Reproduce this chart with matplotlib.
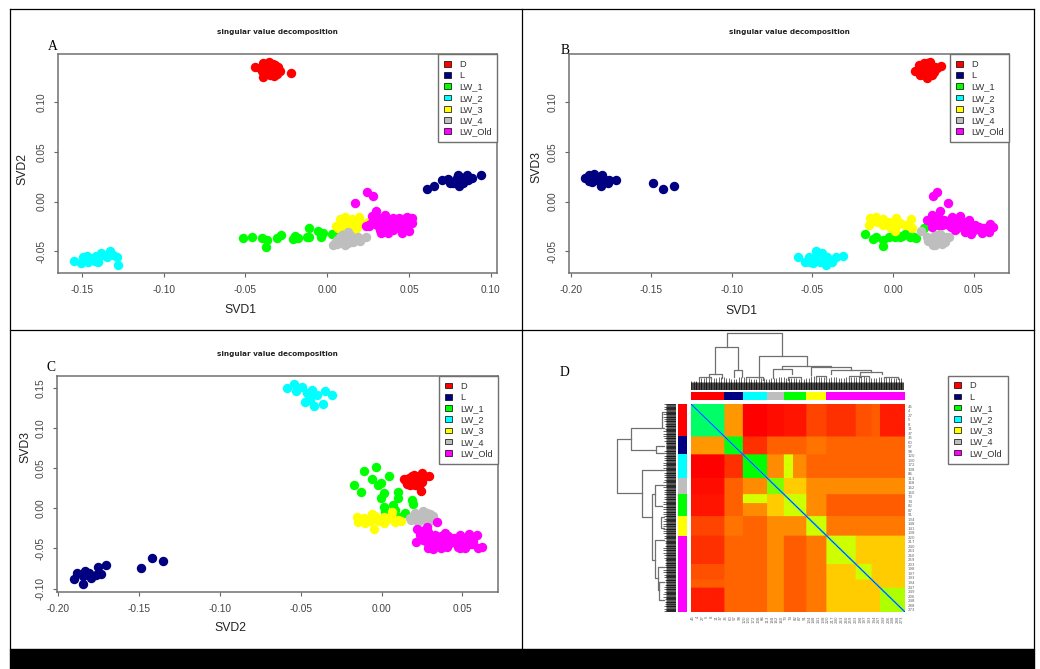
import matplotlib
matplotlib.use('Agg')
import matplotlib.pyplot as plt
import numpy as np
from matplotlib.colors import LinearSegmentedColormap, ListedColormap
from matplotlib.lines import Line2D
from matplotlib.patches import Patch, Rectangle

W, H = 1040, 669

names = ['D', 'L', 'LW_1', 'LW_2', 'LW_3', 'LW_4', 'LW_Old']
colors = ['#ff0000', '#000080', '#00ff00', '#00ffff', '#ffff00', '#bebebe', '#ff00ff']

# panel A
a_d_x = [-.044, -.039, -.0355, -.032, -.029, -.0224, -.039, -.0324, -.036, -.041, -.034, -.031, -.037, -.038, -.033, -.035, -.030, -.040, -.036, -.033]
a_d_y = [.1356, .139, .1406, .1373, .1316, .1289, .1255, .1265, .1322, .1339, .1306, .1282, .1295, .1345, .1385, .1270, .1355, .1310, .1365, .1325]
a_l_x = [.0611, .0652, .0703, .0736, .075, .0801, .0805, .078, .0821, .0852, .0882, .0939, .0831, .079, .0862, .0811, .077]
a_l_y = [.0124, .0161, .0218, .0224, .0184, .0268, .0161, .0201, .0218, .0268, .0234, .0268, .0184, .0234, .0218, .0251, .0184]
a_1_x = [-.0513, -.046, -.0401, -.0367, -.0377, -.031, -.0283, -.0208, -.0198, -.0177, -.0126, -.011, -.011, -.0055, -.0041, -.0024, .0026, .0067, .0139, .0098]
a_1_y = [-.0368, -.0355, -.0362, -.0385, -.0452, -.0365, -.0335, -.0372, -.0345, -.0362, -.0355, -.0352, -.0268, -.0291, -.0352, -.0318, -.0325, -.0301, -.0352, -.0285]
a_2_x = [-.1549, -.1506, -.1496, -.1471, -.1461, -.143, -.1414, -.14, -.138, -.1349, -.1328, -.1308, -.1284, -.1282, -.1451, -.1481, -.142, -.139]
a_2_y = [-.0599, -.0619, -.0559, -.0546, -.0609, -.0569, -.0546, -.0603, -.0519, -.0559, -.0495, -.0536, -.0556, -.0636, -.0586, -.0593, -.0593, -.0546]
a_3_x = [.0051, .0077, .0108, .0149, .0194, .0098, .0139, .0179, .0118, .02, .0067, .0159, .0251, .0088, .0128, .0169]
a_3_y = [-.0244, -.0177, -.0151, -.0177, -.0157, -.0234, -.0218, -.0251, -.0268, -.0201, -.0268, -.0218, -.0201, -.0201, -.0184, -.0285]
a_4_x = [.0033, .0057, .0077, .0098, .0108, .0124, .0128, .0159, .0189, .0236, .0047, .0139, .0088, .0179, .0067, .008, .0125, .015, .020, .0135, .006, .017]
a_4_y = [-.0432, -.0385, -.0352, -.0402, -.0435, -.0301, -.0368, -.0402, -.0352, -.0352, -.0418, -.0335, -.0335, -.0385, -.0418, -.039, -.042, -.038, -.040, -.035, -.043, -.037]
a_o_x = [.024, .0277, .0171, .0295, .0271, .0236, .0352, .0485, .0515, .0328, .0373, .0458, .0499, .0515, .0302, .0342, .0383, .0424, .0465, .0302, .0342, .0383, .0424, .0465, .0322, .0363, .0403, .0444, .0485,
         .032, .036, .040, .044, .048, .051, .030, .034, .038, .042, .046, .050, .032, .036, .040, .044, .048, .028, .026, .0255]
a_o_y = [.0094, .0057, -.0017, -.009, -.0141, -.0241, -.0134, -.0151, -.0167, -.0318, -.0318, -.0311, -.0291, -.0218, -.0184, -.0184, -.0184, -.0184, -.0184, -.0234, -.0251, -.0234, -.0251, -.0234, -.0285, -.0285, -.0285, -.0268, -.0268,
         -.0165, -.016, -.0165, -.016, -.0165, -.0185, -.021, -.021, -.021, -.021, -.021, -.0225, -.026, -.0265, -.026, -.0265, -.026, -.020, -.0225, -.0245]

# panel B
b_d_x = [.0135, .0159, .019, .0232, .0263, .0298, .0211, .017, .0242, .0201, .0222, .018, .0253, .019, .0232, .0159, .0211, .0273]
b_d_y = [.1312, .1373, .1389, .1406, .1356, .1363, .1239, .1272, .1272, .1339, .1306, .1322, .1306, .1272, .1356, .1322, .1389, .1339]
b_l_x = [-.191, -.189, -.189, -.1858, -.1837, -.1806, -.1811, -.1848, -.1786, -.1761, -.1769, -.1721, -.1868, -.1816, -.1492, -.1428, -.136]
b_l_y = [.0234, .0268, .0211, .0275, .0218, .0268, .0161, .0241, .0218, .0218, .0184, .0214, .0201, .0201, .0187, .0124, .0157]
b_1_x = [-.0172, -.0126, -.0106, -.0062, -.0062, -.0027, .0014, .0046, .0077, .0108, .0143, .0195, .0014, .0056, .0128]
b_1_y = [-.0325, -.0372, -.0352, -.0445, -.0385, -.0358, -.0358, -.0352, -.0328, -.0352, -.0365, -.0268, -.0301, -.0345, -.0358]
b_2_x = [-.059, -.0546, -.0519, -.0499, -.0476, -.0451, -.0441, -.041, -.0414, -.0379, -.0354, -.031, -.0482, -.043, -.0513]
b_2_y = [-.0559, -.0603, -.0559, -.0619, -.0495, -.0603, -.0519, -.0552, -.0636, -.0603, -.0559, -.0549, -.0569, -.0586, -.0603]
b_3_x = [-.0147, -.0141, -.0106, -.0064, -.0064, -.0027, .0019, .0014, .0046, .0077, .0114, .0118, -.0017, -.0099, .0025]
b_3_y = [-.0234, -.0167, -.0151, -.0174, -.0234, -.0201, -.0161, -.0295, -.0218, -.0234, -.0174, -.0264, -.0251, -.0201, -.0234]
b_4_x = [.0176, .0211, .0246, .0263, .0304, .0346, .0232, .0284, .0315, .0325, .0263, .026, .029, .024, .030, .033, .022, .028]
b_4_y = [-.0291, -.0352, -.0435, -.0368, -.0425, -.0358, -.0385, -.0385, -.0352, -.0402, -.0435, -.034, -.033, -.038, -.038, -.036, -.040, -.042]
b_o_x = [.0273, .0248, .0344, .0294, .0211, .0242, .0242, .0284, .0315, .0366, .0418, .0346, .0387, .0428, .047, .0486, .0449, .0511, .0553, .0594, .06, .0621, .0532, .0387, .0304, .048, .0573, .0356,
         .024, .028, .032, .036, .040, .044, .024, .028, .032, .036, .040, .044, .048, .052, .056, .050, .054, .058]
b_o_y = [.0094, .0057, -.0017, -.009, -.0184, -.0134, -.0251, -.0167, -.0184, -.0157, -.0141, -.0234, -.0285, -.0218, -.0184, -.0325, -.0301, -.0234, -.0311, -.0301, -.0224, -.0251, -.0251, -.0201, -.0234, -.0251, -.0268, -.0184,
         -.018, -.017, -.019, -.018, -.018, -.020, -.023, -.023, -.022, -.025, -.026, -.024, -.023, -.026, -.026, -.029, -.029, -.027]

# panel C
c_d_x = [.0136, .0167, .0156, .0202, .0253, .0296, .0245, .0208, .0228, .0187, .0259, .0177, .0218, .0249, .019, .015, .024, .021, .018, .023, .026]
c_d_y = [.0361, .0373, .0303, .0415, .0444, .0406, .0216, .029, .0352, .0352, .0373, .029, .0394, .0332, .040, .034, .037, .033, .036, .028, .040]
c_l_x = [-.1901, -.1885, -.1848, -.1835, -.185, -.1798, -.1809, -.1767, -.1753, -.1737, -.1706, -.1486, -.1422, -.1354]
c_l_y = [-.0883, -.08, -.0941, -.0775, -.0842, -.0871, -.0808, -.0829, -.0734, -.0821, -.0709, -.0742, -.0618, -.0655]
c_1_x = [-.0173, -.0126, -.0109, -.006, -.0033, -.0023, -.0002, .0043, .0012, -.0002, .0016, .007, .0101, .0101, .0187, .0193, .0084, .0142, .0115, .0023]
c_1_y = [.0286, .0207, .0464, .0369, .0514, .0286, .0311, .0402, .0187, .0124, .0021, .0041, .0199, .0129, .0104, .0058, -.0021, -.0054, -.0104, -.0041]
c_2_x = [-.0588, -.0539, -.0527, -.049, -.0461, -.043, -.0475, -.044, -.0416, -.0399, -.0362, -.0348, -.0307, -.0451]
c_2_y = [.1493, .1546, .1464, .1505, .1439, .1472, .1327, .1347, .1277, .141, .1298, .1455, .141, .141]
c_3_x = [-.0152, -.0146, -.0107, -.0101, -.006, -.0045, -.0029, .0012, .0016, .0064, .008, .0121, .0043, -.007, -.013, -.008, -.004, -.001, .003, .006, .010]
c_3_y = [-.0104, -.0166, -.0124, -.0178, -.0075, -.0257, -.0145, -.0187, -.0104, -.005, -.0166, -.0153, -.0124, -.0153, -.013, -.013, -.010, -.016, -.015, -.012, -.014]
c_4_x = [.0173, .0208, .0255, .03, .0321, .0228, .027, .0239, .029, .0195, .023, .028, .0315, .026, .021, .031, .0185]
c_4_y = [-.0116, -.0054, -.0033, -.007, -.0124, -.0166, -.0145, -.0104, -.0166, -.009, -.008, -.006, -.010, -.011, -.013, -.015, -.014]
c_o_x = [.0344, .0218, .028, .0249, .0214, .0259, .029, .0317, .0362, .0393, .0403, .0486, .0486, .0516, .0543, .0588, .0599, .0619, .0547, .0444, .0342, .03, .0383, .0486, .028, .0259, .0516, .0424, .0568,
         .025, .029, .033, .037, .041, .045, .049, .053, .057, .027, .031, .035, .039, .043, .047, .051, .055, .024, .033, .037, .047, .052, .056]
c_o_y = [-.0174, -.0257, -.0228, -.0311, -.0419, -.0394, -.0498, -.051, -.0477, -.0303, -.0477, -.0332, -.0498, -.0498, -.0319, -.0332, -.0498, -.0477, -.0394, -.0394, -.0373, -.0352, -.0415, -.0415, -.0415, -.0311, -.0373, -.0435, -.0415,
         -.028, -.030, -.033, -.034, -.035, -.037, -.037, -.036, -.036, -.036, -.038, -.040, -.041, -.042, -.043, -.043, -.044, -.033, -.046, -.049, -.048, -.046, -.045]

# panel D, similarity read block by block (0 red .. 1 blue)
block_names = ['D', 'L', 'LW_2', 'LW_4', 'LW_1a', 'LW_1b', 'LW_3', 'Old_a', 'Old_b', 'Old_c', 'Old_d']
block_sizes = [40, 22, 29, 20, 11, 16, 24, 35, 19, 10, 30]
heat_d = [.60, .15, .00, .015, .02, .02, .07, .05, .08, .09, .03]
heat_l = [.52, .05, .095, .095, .095, .115, .10, .10, .10, .10]
heat_2 = [.50, .14, .29, .14, .10, .10, .10, .10, .10]
heat_4 = [.38, .20, .20, .14, .14, .14, .14, .14]
heat_1a = [.30, .30, .14, .09, .09, .09, .09]
heat_1b = [.30, .14, .09, .09, .09, .09]
heat_3 = [.30, .12, .12, .12, .12]
heat_oa = [.30, .20, .20, .20]
heat_ob = [.30, .20, .20]
heat_oc = [.20, .20]
heat_od = [.33]

bar_groups = [0, 1, 3, 5, 2, 4, 6]
bar_sizes = [40, 22, 29, 20, 27, 24, 94]
# outline of the dense leaves, one height per 8 samples
top_outline = [9, 12, 13, 12, 13, 12, 11, 13, 12, 11, 12, 11, 12, 13, 12, 12, 11, 12, 14, 13, 12, 13, 12, 13, 13, 14, 13, 12, 13, 13, 12, 12]
left_outline = [12, 13, 12, 11, 13, 12, 10, 12, 12, 13, 12, 12, 13, 12, 12, 13, 13, 12, 13, 13, 12, 11, 13, 12, 11, 13, 12, 11, 12, 13, 11, 12]
sample_labels = ['45', '4', '27', '5', '8', '11', '37', '35', '60', '57', '98', '120', '130', '172', '108', '86',
                 '113', '168', '162', '160', '73', '74', '82', '87', '91', '134', '148', '141', '138', '220', '217',
                 '240', '263', '260', '259', '203', '198', '197', '193', '194', '247', '249', '206', '248', '288', '273']

# merges: position 1, position 2, height, height below 1, height below 2
top_merges = [(42.8, 109.6, 57, 43.3, 33.7), (28.8, 56.8, 43.3, 15.7, 20), (81.2, 138.8, 33.7, 12.3, 24.3),
              (109.6, 167.6, 24.3, 20.7, 23), (98.8, 120.8, 20.7, 12.3, 15.7), (143.6, 191.6, 23, 15, 20.3),
              (167.6, 215.6, 20.3, 15.7, 17.7), (202.8, 228.8, 17.7, 13.3, 15.7), (22, 36.8, 15.7, 12, 12),
              (52, 60.8, 20, 13, 13), (10, 24, 13, 11, 11), (150, 162, 14, 11, 11), (190, 214, 14, 11, 11),
              (66, 86, 13, 10, 10), (116, 132, 13, 10, 10), (232, 248, 13, 11, 11)]
left_merges = [(43.5, 109.3, 58.7, 45, 34), (30, 56.7, 45, 15, 19.7), (51.8, 60.8, 19.7, 12.3, 12.3),
               (81.3, 138.9, 34, 12.3, 24.3), (110.9, 192.3, 24.3, 21.3, 20.7), (99.8, 125.7, 21.3, 12.3, 14),
               (167.6, 214.8, 20.7, 12.3, 18.3), (200.5, 229.2, 18.3, 12, 16.7), (219, 241.6, 16.7, 12, 12),
               (138.9, 153.2, 14.7, 12, 12), (10, 30, 14, 12, 12)]


def axesPx(fig, left, top, right, bottom):
    return fig.add_axes([left / W, 1 - bottom / H, (right - left) / W, (bottom - top) / H])


def legendHandles():
    return [Patch(facecolor=c, edgecolor='black', linewidth=0.5, label=n) for n, c in zip(names, colors)]


def legendStyle():
    return dict(prop={'family': 'Liberation Sans', 'size': 6.7}, labelcolor='#333333', frameon=True, fancybox=False,
                framealpha=1, edgecolor='#707070', handlelength=0.78, handleheight=0.55, handletextpad=0.85,
                labelspacing=0.24, borderpad=0.62, borderaxespad=0)


def scatterPanel(fig, box, groups, xlim, ylim, xticks, yticks, xlabel, ylabel, xlab_px, ylab_px):
    ax = axesPx(fig, *box)
    for (x, y), c in zip(groups, colors):
        ax.scatter(x, y, s=46, color=c, linewidths=0)
    ax.set_xlim(xlim)
    ax.set_ylim(ylim)
    ax.set_xticks(xticks)
    ax.set_yticks(yticks)
    ax.set_xticklabels(['%.2f' % t for t in xticks])
    ax.set_yticklabels(['%.2f' % t for t in yticks], rotation=90, va='center')
    ax.tick_params(length=3.2, width=0.8, color='#666666', labelsize=7.3, labelcolor='#444444', pad=5)
    for label in ax.get_xticklabels() + ax.get_yticklabels():
        label.set_family('Liberation Sans')
    for s in ax.spines.values():
        s.set_color('#707070')
        s.set_linewidth(1.1)
    ax.set_title('singular value decomposition', fontsize=5.2, fontweight='bold', family='DejaVu Sans', pad=14.5, color='#222222')
    ax.set_xlabel(xlabel, fontsize=8.8, family='Liberation Sans', color='#222222')
    ax.set_ylabel(ylabel, fontsize=8.8, family='Liberation Sans', color='#222222')
    left, top, right, bottom = box
    ax.xaxis.set_label_coords((xlab_px[0] - left) / (right - left), (bottom - xlab_px[1]) / (bottom - top))
    ax.yaxis.set_label_coords((ylab_px[0] - left) / (right - left), (bottom - ylab_px[1]) / (bottom - top))
    ax.xaxis.label.set_va('center')
    ax.yaxis.label.set_va('center')
    ax.legend(handles=legendHandles(), loc='upper right', bbox_to_anchor=(1, 1), **legendStyle())
    return ax


def buildMatrix():
    n = len(block_sizes)
    m = np.zeros((n, n))
    rows = [heat_d, heat_l, heat_2, heat_4, heat_1a, heat_1b, heat_3, heat_oa, heat_ob, heat_oc, heat_od]
    for i, row in enumerate(rows):
        for j, v in enumerate(row):
            m[i, i + j] = v
            m[i + j, i] = v
    m = np.repeat(np.repeat(m, block_sizes, axis=0), block_sizes, axis=1)
    # blue diagonal has to survive the downscale
    idx = np.arange(len(m) - 1)
    m[idx, idx + 1] = 0.8
    m[idx + 1, idx] = 0.8
    np.fill_diagonal(m, 1)
    return m


def heatPanel(fig):
    n = sum(block_sizes)
    cmap = LinearSegmentedColormap.from_list('rb', ['#ff0000', '#ffff00', '#00ff00', '#00ffff', '#0000ff'])
    ax = axesPx(fig, 691, 404, 904.3, 611.7)
    ax.imshow(buildMatrix(), cmap=cmap, vmin=0, vmax=1, aspect='auto', extent=(0, n, n, 0))
    for s in ax.spines.values():
        s.set_visible(False)
    ticks = np.linspace(2.5, n - 2.5, len(sample_labels))
    ax.yaxis.tick_right()
    ax.set_yticks(ticks)
    ax.set_yticklabels(sample_labels)
    ax.set_xticks(ticks)
    ax.set_xticklabels(sample_labels, rotation=90)
    ax.tick_params(length=0, labelsize=2.8, labelcolor='#666666', pad=2.5)

    groups = np.repeat(bar_groups, bar_sizes)
    bar_cmap = ListedColormap(colors)
    top_bar = axesPx(fig, 691, 391.7, 904.3, 400)
    top_bar.imshow(groups[None, :], cmap=bar_cmap, vmin=0, vmax=6, aspect='auto', interpolation='nearest')
    left_bar = axesPx(fig, 677.7, 404, 686.7, 611.7)
    left_bar.imshow(groups[:, None], cmap=bar_cmap, vmin=0, vmax=6, aspect='auto', interpolation='nearest')
    for a in [top_bar, left_bar]:
        a.set_xticks([])
        a.set_yticks([])
        for s in a.spines.values():
            s.set_visible(False)

    leaves = np.arange(n) + 0.5
    top_tree = axesPx(fig, 691, 331, 904.3, 390)
    top_tree.set_xlim(0, n)
    top_tree.set_ylim(0, 59)
    top_tree.vlines(leaves[::3], 0, np.repeat(top_outline, 8)[::3], color='#666666', linewidth=0.7)
    top_tree.vlines(leaves, 0, 8, color='#111111', linewidth=0.55)
    for x0, x1, h, h0, h1 in top_merges:
        top_tree.plot([x0, x0, x1, x1], [h0, h, h, h1], color='#707070', linewidth=0.9)
    top_tree.axis('off')

    left_tree = axesPx(fig, 612, 404, 676, 611.7)
    left_tree.set_ylim(n, 0)
    left_tree.set_xlim(64, 0)
    left_tree.hlines(leaves[::3], 0, np.repeat(left_outline, 8)[::3], color='#666666', linewidth=0.7)
    left_tree.hlines(leaves, 0, 10, color='#111111', linewidth=0.5)
    for y0, y1, h, h0, h1 in left_merges:
        left_tree.plot([h0, h, h, h1], [y0, y0, y1, y1], color='#707070', linewidth=0.9)
    left_tree.axis('off')

    fig.legend(handles=legendHandles(), loc='upper left', bbox_to_anchor=(948.3 / W, 1 - 375.7 / H), **legendStyle())


def drawFrame(fig):
    fig.add_artist(Rectangle((10 / W, 0), 1024 / W, 1 - 649 / H, transform=fig.transFigure, color='black', zorder=5))
    lines = [((10, 10), (9, 649)), ((1034, 1034), (9, 649)), ((10, 1034), (9, 9)), ((522, 522), (9, 649)), ((10, 1034), (330, 330))]
    for xs, ys in lines:
        fig.add_artist(Line2D([x / W for x in xs], [1 - y / H for y in ys], color='black', linewidth=0.9))


if __name__ == '__main__':
    fig = plt.figure(figsize=(W / 100, H / 100), dpi=100)

    scatterPanel(fig, (58.3, 54.3, 497.3, 273.3),
                 [(a_d_x, a_d_y), (a_l_x, a_l_y), (a_1_x, a_1_y), (a_2_x, a_2_y), (a_3_x, a_3_y), (a_4_x, a_4_y), (a_o_x, a_o_y)],
                 (-.1644, .1039), (-.072, .148), [-.15, -.10, -.05, 0, .05, .10], [-.05, 0, .05, .10],
                 'SVD1', 'SVD2', (240, 310), (22.7, 169))
    scatterPanel(fig, (569.3, 54.3, 1009.3, 273.3),
                 [(b_d_x, b_d_y), (b_l_x, b_l_y), (b_1_x, b_1_y), (b_2_x, b_2_y), (b_3_x, b_3_y), (b_4_x, b_4_y), (b_o_x, b_o_y)],
                 (-.2010, .0722), (-.072, .148), [-.20, -.15, -.10, -.05, 0, .05], [-.05, 0, .05, .10],
                 'SVD1', 'SVD3', (741.3, 311), (536, 167))
    scatterPanel(fig, (57.3, 376, 498.3, 592.3),
                 [(c_d_x, c_d_y), (c_l_x, c_l_y), (c_1_x, c_1_y), (c_2_x, c_2_y), (c_3_x, c_3_y), (c_4_x, c_4_y), (c_o_x, c_o_y)],
                 (-.2006, .0722), (-.1045, .1646), [-.20, -.15, -.10, -.05, 0, .05], [-.10, -.05, 0, .05, .10, .15],
                 'SVD2', 'SVD3', (230, 627.7), (25.7, 446.7))
    heatPanel(fig)

    for letter, x, y in [('A', 52.3, 46.7), ('B', 564.7, 50), ('C', 51, 367.7), ('D', 565, 373)]:
        fig.text(x / W, 1 - y / H, letter, family='Liberation Serif', fontsize=9.8, ha='center', va='center')

    drawFrame(fig)
    fig.savefig('out.png', dpi=100)
